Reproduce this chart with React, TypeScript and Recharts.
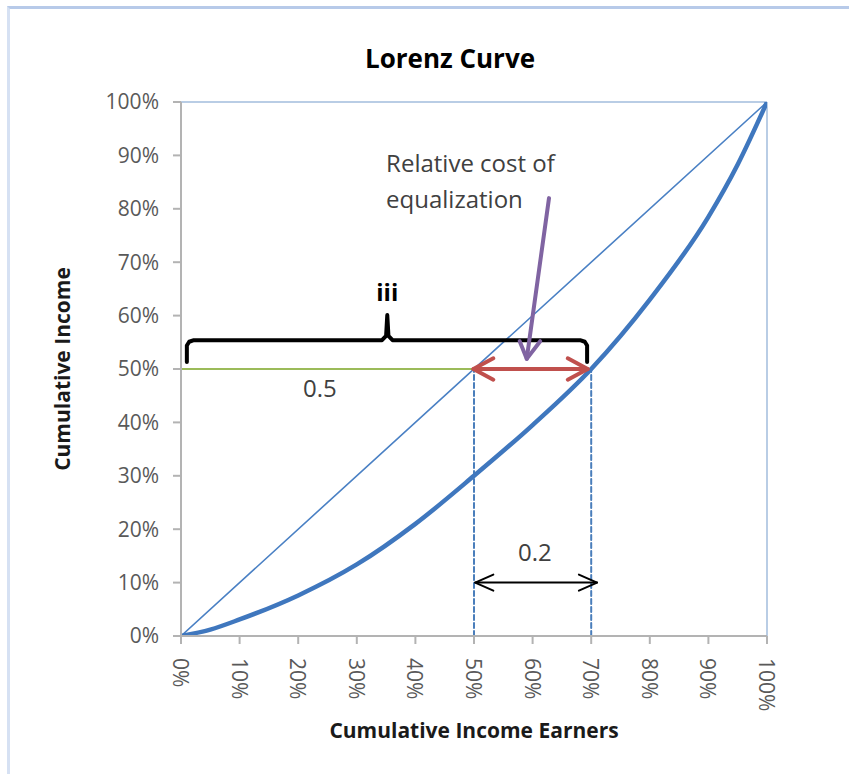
import React from 'react';
import {
  ComposedChart,
  Line,
  XAxis,
  YAxis,
  ReferenceLine,
  ReferenceDot,
} from 'recharts';

const FONT = '"Open Sans", "Noto Sans", sans-serif';

// Lorenz curve (percent of earners -> percent of income)
const earners = [0, 5, 10, 20, 30, 40, 50, 60, 70, 80, 90, 95, 100];
const income = [0, 1.2, 3.1, 7.6, 13.4, 21, 30, 39.5, 50, 63, 78.5, 88.3, 100];

const equality = [
  { x: 0, y: 0 },
  { x: 100, y: 100 },
];

const xTicks = [0, 10, 20, 30, 40, 50, 60, 70, 80, 90, 100];
const yTicks = [0, 10, 20, 30, 40, 50, 60, 70, 80, 90, 100];

// annotation shapes in data units
const greenLine = [
  { x: 0, y: 50 },
  { x: 50, y: 50 },
];
const dropLeft = [
  { x: 50, y: 0 },
  { x: 50, y: 50 },
];
const dropRight = [
  { x: 70, y: 0 },
  { x: 70, y: 50 },
];
const brace = [
  { x: 1.0, y: 51.3 },
  { x: 1.0, y: 54.4 },
  { x: 1.4, y: 55.1 },
  { x: 2.2, y: 55.4 },
  { x: 34.3, y: 55.4 },
  { x: 35.0, y: 56.2 },
  { x: 35.2, y: 60.1 },
  { x: 35.4, y: 56.2 },
  { x: 36.1, y: 55.4 },
  { x: 68.1, y: 55.4 },
  { x: 68.9, y: 55.1 },
  { x: 69.3, y: 54.4 },
  { x: 69.3, y: 51.3 },
];
const redShaft = [
  { x: 49.9, y: 50 },
  { x: 69.4, y: 50 },
];
const redHeadLeft = [
  { x: 53.3, y: 52.0 },
  { x: 49.9, y: 50 },
  { x: 53.3, y: 48.0 },
];
const redHeadRight = [
  { x: 66.0, y: 52.0 },
  { x: 69.4, y: 50 },
  { x: 66.0, y: 48.0 },
];
const purpleShaft = [
  { x: 62.8, y: 82.0 },
  { x: 59.0, y: 51.9 },
];
const purpleHead = [
  { x: 57.8, y: 55.2 },
  { x: 59.0, y: 51.9 },
  { x: 61.3, y: 55.2 },
];
const blackShaft = [
  { x: 50.2, y: 10 },
  { x: 71.0, y: 10 },
];
const blackHeadLeft = [
  { x: 53.3, y: 11.5 },
  { x: 50.2, y: 10 },
  { x: 53.3, y: 8.5 },
];
const blackHeadRight = [
  { x: 67.9, y: 11.5 },
  { x: 71.0, y: 10 },
  { x: 67.9, y: 8.5 },
];

// text notes: [text, x, y, anchor]
const notes: [string, number, number, string][] = [
  ['Relative cost of', 35.0, 88.6, 'start'],
  ['equalization', 35.0, 81.9, 'start'],
  ['0.5', 23.7, 46.6, 'middle'],
  ['0.2', 60.4, 15.9, 'middle'],
];

const lorenzData = earners.map((e, i) => ({ x: e, y: income[i] }));

const noteLabel = (text: string, anchor: string, color = '#404040', weight = 'normal') =>
  (props: any) => {
    const vb = props.viewBox || {};
    const cx = vb.x + (vb.width || 0) / 2;
    const cy = vb.y + (vb.height || 0) / 2;
    return (
      <text
        x={cx}
        y={cy}
        textAnchor={anchor}
        dominantBaseline="central"
        fontSize={24}
        fontFamily={FONT}
        fontWeight={weight}
        fill={color}
      >
        {text}
      </text>
    );
  };

const XTick = (props: any) => {
  const { x, y, payload } = props;
  return (
    <text
      x={x}
      y={y}
      transform={`rotate(90 ${x} ${y})`}
      textAnchor="start"
      dominantBaseline="central"
      fontSize={21}
      fontFamily={FONT}
      fill="#595959"
    >
      {payload.value}%
    </text>
  );
};

const seg = (data: any[], color: string, width: number, key: string, dash?: string) => (
  <Line
    key={key}
    data={data}
    dataKey="y"
    type="linear"
    stroke={color}
    strokeWidth={width}
    strokeDasharray={dash}
    strokeLinecap="round"
    strokeLinejoin="round"
    dot={false}
    activeDot={false}
    isAnimationActive={false}
  />
);

export default function App() {
  return (
    <div
      style={{
        position: 'absolute',
        left: 0,
        top: 0,
        width: 849,
        height: 774,
        background: '#fff',
        fontFamily: FONT,
      }}
    >
      <div
        style={{
          position: 'absolute',
          left: 7,
          top: 6,
          right: 0,
          bottom: 0,
          borderTop: '3px solid #B7CAE9',
          borderLeft: '3px solid #D6E1F3',
        }}
      />
      <div
        style={{
          position: 'absolute',
          left: 0,
          width: 900,
          top: 40,
          lineHeight: '36px',
          textAlign: 'center',
          fontSize: 26,
          fontWeight: 'bold',
          color: '#000',
        }}
      >
        Lorenz Curve
      </div>
      <div style={{ position: 'absolute', left: 0, top: 0 }}>
        <ComposedChart
          width={849}
          height={774}
          margin={{ top: 102, right: 82, bottom: 0, left: 0 }}
        >
          <XAxis
            type="number"
            dataKey="x"
            domain={[0, 100]}
            ticks={xTicks}
            interval={0}
            allowDataOverflow
            height={138}
            tickSize={8}
            tickMargin={14}
            tick={<XTick />}
            axisLine={{ stroke: '#B3B3B3', strokeWidth: 2 }}
            tickLine={{ stroke: '#B3B3B3', strokeWidth: 2 }}
            label={{
              content: (p: any) => {
                const vb = p.viewBox;
                return (
                  <text
                    x={vb.x + vb.width / 2}
                    y={vb.y + 94}
                    textAnchor="middle"
                    dominantBaseline="central"
                    fontSize={21}
                    fontWeight="bold"
                    fontFamily={FONT}
                    fill="#1a1a1a"
                  >
                    Cumulative Income Earners
                  </text>
                );
              },
            }}
          />
          <YAxis
            type="number"
            dataKey="y"
            domain={[0, 100]}
            ticks={yTicks}
            interval={0}
            allowDataOverflow
            width={181}
            tickSize={8}
            tickMargin={14}
            tickFormatter={(v) => `${v}%`}
            tick={{ fill: '#595959', fontSize: 21, fontFamily: FONT }}
            axisLine={{ stroke: '#B3B3B3', strokeWidth: 2 }}
            tickLine={{ stroke: '#B3B3B3', strokeWidth: 2 }}
            label={{
              content: (p: any) => {
                const vb = p.viewBox;
                const cx = vb.x + 62;
                const cy = vb.y + vb.height / 2;
                return (
                  <text
                    x={cx}
                    y={cy}
                    transform={`rotate(-90 ${cx} ${cy})`}
                    textAnchor="middle"
                    dominantBaseline="central"
                    fontSize={21}
                    fontWeight="bold"
                    fontFamily={FONT}
                    fill="#1a1a1a"
                  >
                    Cumulative Income
                  </text>
                );
              },
            }}
          />
          <ReferenceLine y={100} stroke="#B9CDE5" strokeWidth={2} />
          <ReferenceLine x={100} stroke="#B9CDE5" strokeWidth={2} />

          {seg(dropLeft, '#4A7EBB', 2, 'dl', '5 3')}
          {seg(dropRight, '#4A7EBB', 2, 'dr', '5 3')}
          {seg(greenLine, '#9BBB59', 2, 'green')}
          {seg(equality, '#4A80C4', 1.6, 'eq')}
          <Line
            data={lorenzData}
            dataKey="y"
            type="monotone"
            stroke="#3F77BE"
            strokeWidth={4.5}
            dot={false}
            activeDot={false}
            isAnimationActive={false}
          />
          {seg(brace, '#000000', 4, 'brace')}
          {seg(purpleShaft, '#8064A2', 4, 'ps')}
          {seg(purpleHead, '#8064A2', 4, 'ph')}
          {seg(redShaft, '#C0504D', 4, 'rs')}
          {seg(redHeadLeft, '#C0504D', 4, 'rhl')}
          {seg(redHeadRight, '#C0504D', 4, 'rhr')}
          {seg(blackShaft, '#000000', 2, 'bs')}
          {seg(blackHeadLeft, '#000000', 2, 'bhl')}
          {seg(blackHeadRight, '#000000', 2, 'bhr')}

          {notes.map(([t, x, y, a]) => (
            <ReferenceDot
              key={t}
              x={x}
              y={y}
              r={1}
              fill="none"
              stroke="none"
              label={{ content: noteLabel(t, a) }}
            />
          ))}
          <ReferenceDot
            x={35.2}
            y={64.6}
            r={1}
            fill="none"
            stroke="none"
            label={{ content: noteLabel('iii', 'middle', '#000', 'bold') }}
          />
        </ComposedChart>
      </div>
    </div>
  );
}
